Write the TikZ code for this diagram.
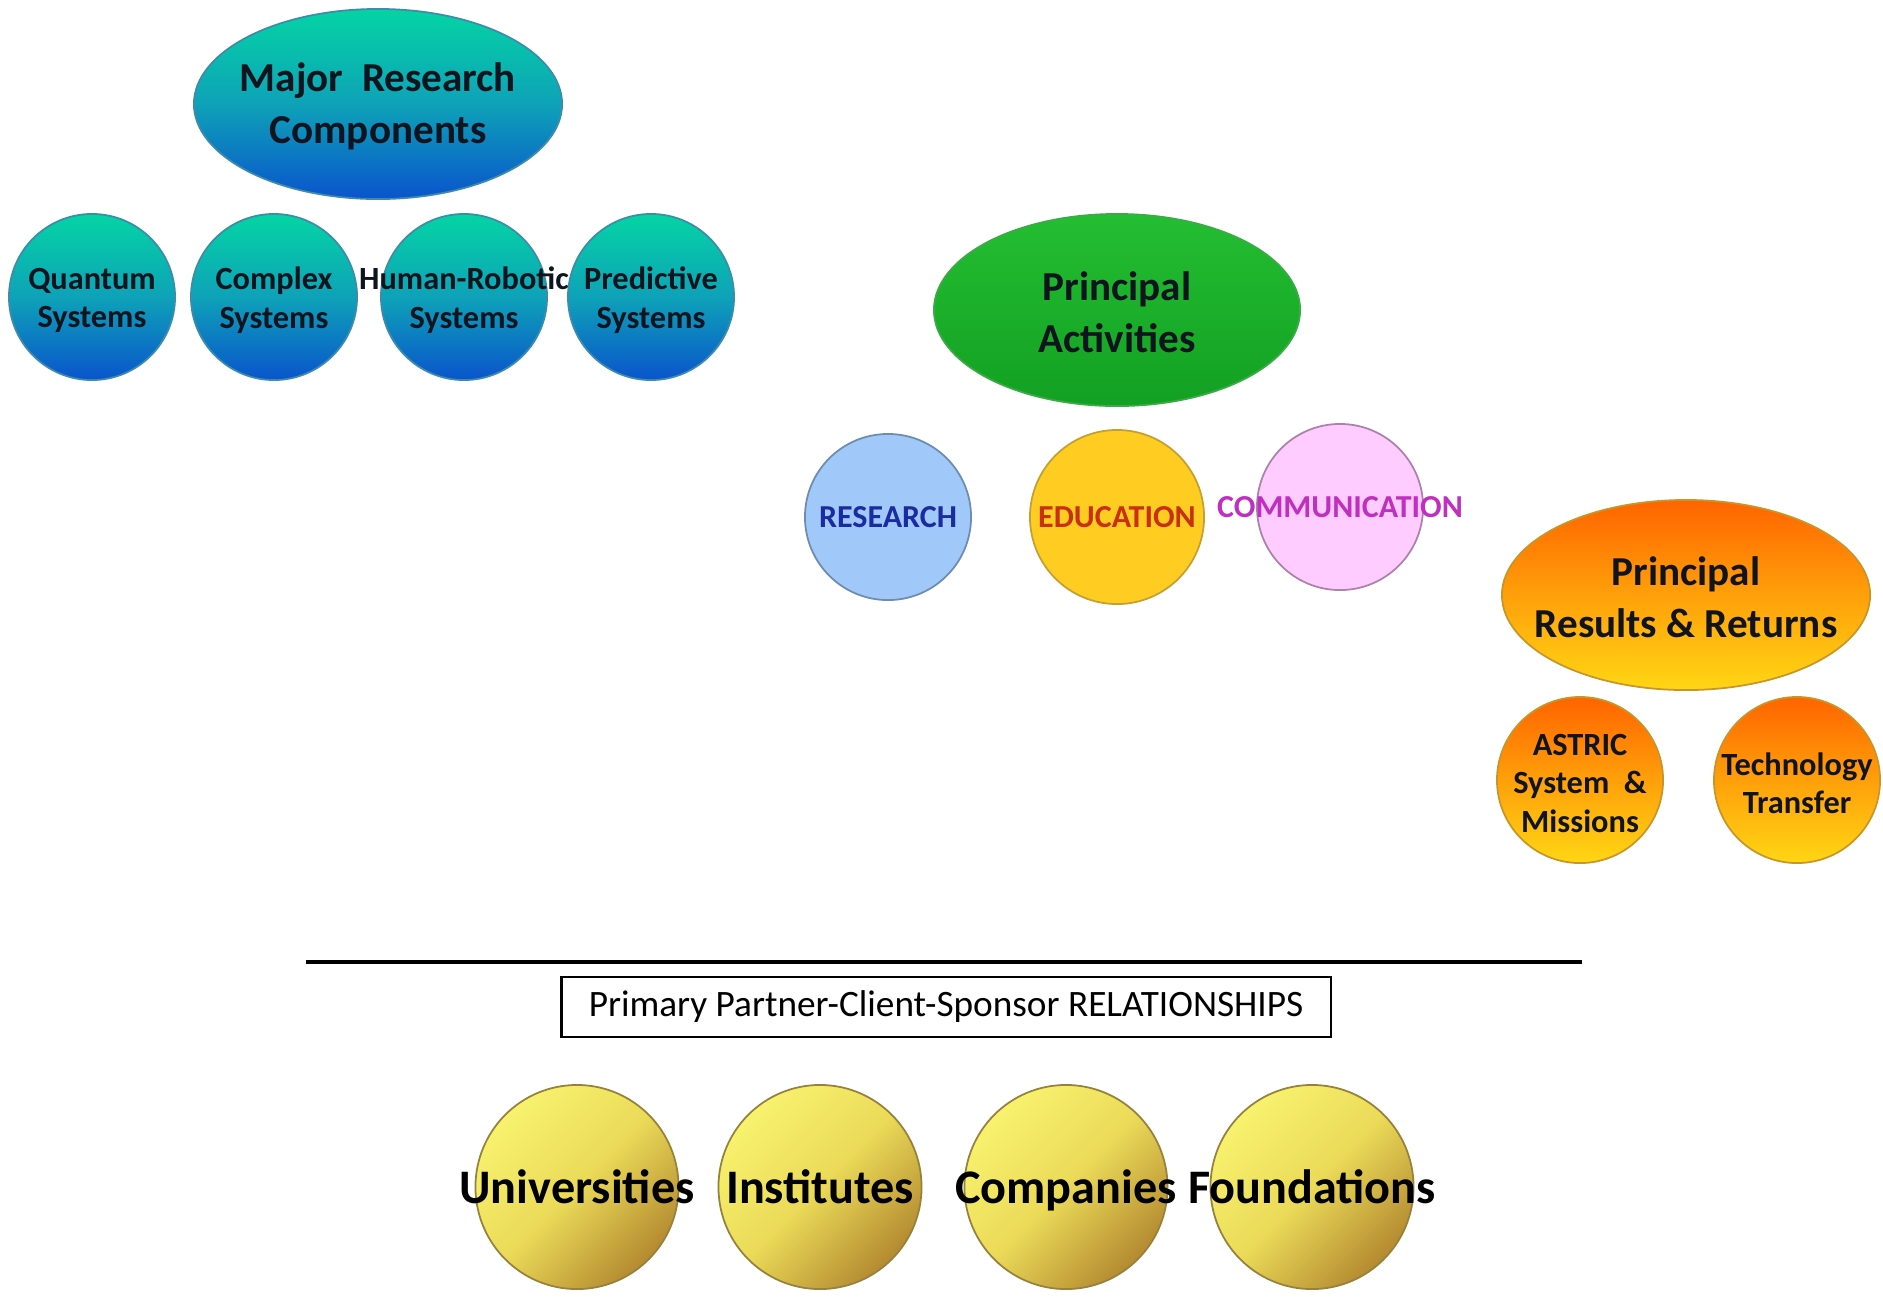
\documentclass[tikz,border=0pt]{standalone}
\usepackage{fontspec}
\setmainfont{Carlito}
\usetikzlibrary{shapes.geometric}
\definecolor{tealtop}{RGB}{4,212,164}
\definecolor{tealmid}{RGB}{14,162,184}
\definecolor{bluebot}{RGB}{10,84,204}
\definecolor{bluedge}{RGB}{60,140,170}
\definecolor{greentop}{RGB}{36,190,50}
\definecolor{greenbot}{RGB}{18,160,34}
\definecolor{greenedge}{RGB}{60,170,70}
\definecolor{orangetop}{RGB}{255,100,0}
\definecolor{orangemid}{RGB}{255,160,10}
\definecolor{orangebot}{RGB}{255,214,20}
\definecolor{orangeedge}{RGB}{200,150,40}
\definecolor{yeltop}{RGB}{248,242,110}
\definecolor{yelmid}{RGB}{234,218,88}
\definecolor{yelbot}{RGB}{180,138,48}
\definecolor{yeledge}{RGB}{150,130,60}
\definecolor{resfill}{RGB}{160,200,248}
\definecolor{resedge}{RGB}{110,140,176}
\definecolor{restext}{RGB}{26,44,160}
\definecolor{edufill}{RGB}{255,204,34}
\definecolor{eduedge}{RGB}{196,160,50}
\definecolor{edutext}{RGB}{200,48,16}
\definecolor{comfill}{RGB}{255,204,255}
\definecolor{comedge}{RGB}{170,130,170}
\definecolor{comtext}{RGB}{192,48,192}
\definecolor{darktext}{RGB}{16,20,30}
\newcommand\myfs[2]{\fontsize{#1}{#2}\selectfont}
\begin{document}
\begin{tikzpicture}[x=0.01cm,y=-0.01cm,
  ball/.style={ellipse, inner sep=0pt, line width=0.5pt},
  bigtxt/.style={align=center, text=darktext, font=\myfs{11.7}{14.8}\bfseries, yshift=-0.6pt},
  smalltxt/.style={align=center, text=darktext, font=\myfs{9.2}{10.9}\bfseries, yshift=-0.9pt},
  colortxt/.style={align=center, font=\myfs{9.1}{10.9}\bfseries},
  hugetxt/.style={align=center, text=black, font=\myfs{13.7}{16}\bfseries, text height=9.4pt, text depth=0pt},
  tealball/.style={ball, draw=bluedge, top color=tealtop, bottom color=bluebot, middle color=tealmid},
  greenball/.style={ball, draw=greenedge, top color=greentop, bottom color=greenbot},
  orangeball/.style={ball, draw=orangeedge, top color=orangetop, bottom color=orangebot, middle color=orangemid},
  yelball/.style={ball, draw=yeledge, top color=yeltop, bottom color=yelbot, middle color=yelmid, shading angle=45},
  small/.style={minimum width=1.66cm, minimum height=1.66cm},
  big/.style={minimum width=3.68cm, minimum height=1.9cm},
  huge/.style={minimum width=2.03cm, minimum height=2.04cm}
]
\useasboundingbox (0,0) rectangle (1883,1296);
% Major research components
\node[tealball, big, label={[bigtxt]center:{Major\ \ Research\\Components}}] (mrc) at (378,104) {};
\node[tealball, small, label={[smalltxt]center:{Quantum\\Systems}}] (quant) at (92,297) {};
\node[tealball, small, label={[smalltxt]center:{Complex\\Systems}}] (compl) at (274,297) {};
\node[tealball, small, label={[smalltxt]center:{Human-Robotic\\Systems}}] (human) at (464,297) {};
\node[tealball, small, label={[smalltxt]center:{Predictive\\Systems}}] (pred) at (651,297) {};
% Principal activities
\node[greenball, minimum width=3.66cm, minimum height=1.92cm, label={[bigtxt]center:{Principal\\Activities}}] (pa) at (1117,310) {};
\node[ball, small, draw=resedge, fill=resfill, label={[colortxt, text=restext]center:{RESEARCH}}] (res) at (888,517) {};
\node[ball, minimum width=1.74cm, minimum height=1.74cm, draw=eduedge, fill=edufill, label={[colortxt, text=edutext]center:{EDUCATION}}] (edu) at (1117,517) {};
\node[ball, small, draw=comedge, fill=comfill, label={[colortxt, text=comtext]center:{COMMUNICATION}}] (com) at (1340,507) {};
% Principal results
\node[orangeball, big, label={[bigtxt]center:{Principal\\Results \& Returns}}] (prr) at (1686,595) {};
\node[orangeball, small, label={[smalltxt]center:{ASTRIC\\System\ \ \&\\Missions}}] (astric) at (1580,780) {};
\node[orangeball, small, label={[smalltxt]center:{Technology\\Transfer}}] (tech) at (1797,780) {};
% separator line and box
\coordinate (hl) at (306,962);
\coordinate (hr) at (1582,962);
\draw[line width=0.9pt] (hl) -- (hr);
\node[draw, line width=0.7pt, minimum width=7.69cm, minimum height=0.6cm, inner sep=0pt, font=\myfs{10.6}{12}] (rel) at (946,1007) {Primary Partner-Client-Sponsor RELATIONSHIPS};
% partners
\node[yelball, huge, label={[hugetxt]center:{Universities}}] (univ) at (577,1187) {};
\node[yelball, huge, label={[hugetxt]center:{Institutes}}] (inst) at (820,1187) {};
\node[yelball, huge, label={[hugetxt]center:{Companies}}] (comp) at (1066,1187) {};
\node[yelball, huge, label={[hugetxt]center:{Foundations}}] (found) at (1312,1187) {};
\end{tikzpicture}
\end{document}
